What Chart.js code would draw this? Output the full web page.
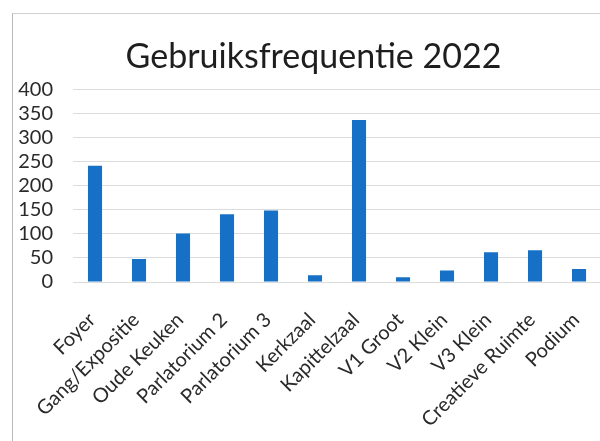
<!DOCTYPE html>
<html>
<head>
<meta charset="utf-8">
<script src="https://cdn.jsdelivr.net/npm/chart.js@4.4.1/dist/chart.umd.min.js"></script>
<style>
  html, body { margin: 0; padding: 0; background: #fff; overflow: hidden; }
  #wrap { position: relative; width: 600px; height: 441px; overflow: hidden; }
  #frame { position: absolute; left: 12px; top: 13px; width: 700px; height: 500px;
           border-left: 1px solid #b8b8b8; border-top: 1px solid #d0d0d0; pointer-events: none; }
  canvas { position: absolute; left: 0; top: 0; }
</style>
</head>
<body>
<div id="wrap">
  <div id="frame"></div>
  <canvas id="c" width="622" height="441"></canvas>
</div>
<script>
const titleText = "Gebruiksfrequentie 2022";
const categories = ["Foyer", "Gang/Expositie", "Oude Keuken", "Parlatorium 2", "Parlatorium 3",
  "Kerkzaal", "Kapittelzaal", "V1 Groot", "V2 Klein", "V3 Klein", "Creatieve Ruimte", "Podium"];
const usage = [242, 48, 101, 141, 149, 14, 337, 10, 24, 62, 66, 27];
const yMin = 0, yMax = 400, yStep = 50;

new Chart(document.getElementById('c'), {
  type: 'bar',
  data: {
    labels: categories,
    datasets: [{ data: usage, backgroundColor: '#1670c6', borderWidth: 0,
                 categoryPercentage: 1.0, barPercentage: 0.32 }]
  },
  options: {
    responsive: false,
    animation: false,
    layout: { padding: { left: 5, right: 0, top: 0, bottom: 0 } },
    plugins: {
      legend: { display: false },
      tooltip: { enabled: false },
      title: { display: true, text: titleText, color: '#1e1e1e',
               font: { family: 'Lato', size: 34, weight: 'normal', lineHeight: 1.2 },
               padding: { top: 37, bottom: 12 } }
    },
    scales: {
      x: {
        grid: { display: false, drawTicks: false },
        border: { display: false },
        ticks: { color: '#2a2a2a', font: { family: 'Lato', size: 20 }, minRotation: 45, maxRotation: 45,
                 autoSkip: false, padding: 26, labelOffset: -3 },
        afterFit(s) { s.height = 159; }
      },
      y: {
        min: yMin, max: yMax,
        grid: { color: '#dcdcdc', lineWidth: 1, drawTicks: false },
        border: { display: false },
        ticks: { stepSize: yStep, color: '#2a2a2a', font: { family: 'Lato', size: 20 }, padding: 20,
                 autoSkip: false },
        afterFit(s) { s.width = 68; }
      }
    }
  }
});
</script>
</body>
</html>
